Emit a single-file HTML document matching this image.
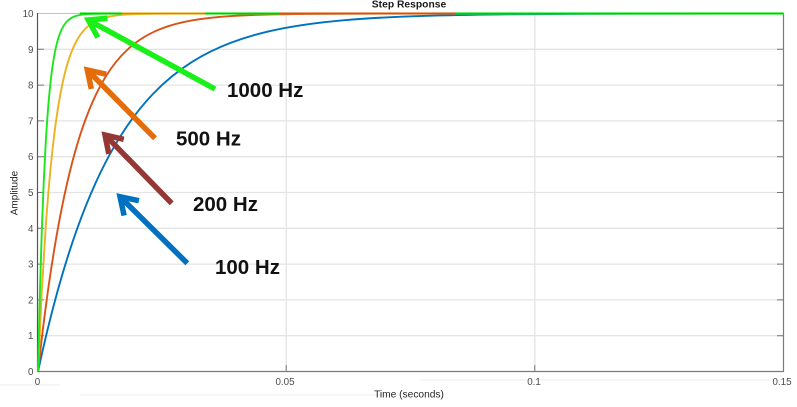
<!DOCTYPE html>
<html><head><meta charset="utf-8"><style>
html,body{margin:0;padding:0;background:#fff;}
svg{display:block;font-family:"Liberation Sans",Arial,sans-serif;}
</style></head><body>
<svg width="797" height="407" viewBox="0 0 797 407" xmlns="http://www.w3.org/2000/svg">
<defs>
<clipPath id="pc"><rect x="37" y="11" width="747" height="362"/></clipPath>
</defs>
<rect width="797" height="407" fill="#ffffff"/>
<!-- faint background pattern -->
<g stroke="#f3f3f3" stroke-width="1.5" fill="none">
<path d="M0 385 L60 385 M80 395 L400 395 M420 380 L780 380"/>
</g>
<!-- plot area -->
<rect x="37.5" y="13.5" width="746" height="358" fill="#ffffff"/>
<!-- grid -->
<g stroke="#e4e4e4" stroke-width="1.3">
<line x1="38" y1="335.7" x2="783" y2="335.7"/>
<line x1="38" y1="299.9" x2="783" y2="299.9"/>
<line x1="38" y1="264.1" x2="783" y2="264.1"/>
<line x1="38" y1="228.3" x2="783" y2="228.3"/>
<line x1="38" y1="192.5" x2="783" y2="192.5"/>
<line x1="38" y1="156.7" x2="783" y2="156.7"/>
<line x1="38" y1="120.9" x2="783" y2="120.9"/>
<line x1="38" y1="85.1" x2="783" y2="85.1"/>
<line x1="38" y1="49.3" x2="783" y2="49.3"/>
<line x1="286.2" y1="14" x2="286.2" y2="371"/>
<line x1="534.8" y1="14" x2="534.8" y2="371"/>
</g>
<!-- ticks -->
<g stroke="#777" stroke-width="1">
<path d="M38 335.7h6M38 299.9h6M38 264.1h6M38 228.3h6M38 192.5h6M38 156.7h6M38 120.9h6M38 85.1h6M38 49.3h6"/>
<path d="M783 335.7h-6M783 299.9h-6M783 264.1h-6M783 228.3h-6M783 192.5h-6M783 156.7h-6M783 120.9h-6M783 85.1h-6M783 49.3h-6"/>
<path d="M286.2 371v-6M534.8 371v-6"/>
</g>
<!-- axes -->
<line x1="37.5" y1="13" x2="37.5" y2="372" stroke="#555" stroke-width="1.2"/>
<line x1="37" y1="371.5" x2="784" y2="371.5" stroke="#7a7a7a" stroke-width="1.2"/>
<line x1="783.5" y1="13" x2="783.5" y2="372" stroke="#7a7a7a" stroke-width="1.2"/>
<!-- curves -->
<g clip-path="url(#pc)">
<g fill="none" stroke-width="1.9" stroke-linejoin="round">
<path id="c1" transform="translate(38,0) scale(77,1)" vector-effect="non-scaling-stroke" stroke="#0072bd" d="M0,371.5 C0.0833,341.67 0.1667,315.53 0.25,292.3 C0.3333,269.07 0.4167,248.69 0.5,230.6 C0.5833,212.51 0.6667,196.69 0.75,182.6 C0.8333,168.51 0.9167,156.18 1,145.2 C1.1667,123.25 1.3333,106.72 1.5,93.4 C1.6667,80.08 1.8333,70.03 2,61.95 C2.1667,53.88 2.3333,47.79 2.5,42.89 C2.6667,37.99 2.8333,34.29 3,31.32 C3.3333,25.38 3.6667,22.25 4,20.06 C4.3333,17.87 4.6667,16.71 5,15.91 C5.3333,15.11 5.6667,14.69 6,14.39 C6.6667,13.8 7.3333,13.7 8,13.62 C8.6667,13.54 9.3333,13.52 10,13.52 L200,13.5"/>
<path transform="translate(38,0) scale(39,1)" vector-effect="non-scaling-stroke" stroke="#d95319" d="M0,371.5 C0.0833,341.67 0.1667,315.53 0.25,292.3 C0.3333,269.07 0.4167,248.69 0.5,230.6 C0.5833,212.51 0.6667,196.69 0.75,182.6 C0.8333,168.51 0.9167,156.18 1,145.2 C1.1667,123.25 1.3333,106.72 1.5,93.4 C1.6667,80.08 1.8333,70.03 2,61.95 C2.1667,53.88 2.3333,47.79 2.5,42.89 C2.6667,37.99 2.8333,34.29 3,31.32 C3.3333,25.38 3.6667,22.25 4,20.06 C4.3333,17.87 4.6667,16.71 5,15.91 C5.3333,15.11 5.6667,14.69 6,14.39 C6.6667,13.8 7.3333,13.7 8,13.62 C8.6667,13.54 9.3333,13.52 10,13.52 L200,13.5"/>
<path transform="translate(38,0) scale(15,1)" vector-effect="non-scaling-stroke" stroke="#edb120" d="M0,371.5 C0.0833,341.67 0.1667,315.53 0.25,292.3 C0.3333,269.07 0.4167,248.69 0.5,230.6 C0.5833,212.51 0.6667,196.69 0.75,182.6 C0.8333,168.51 0.9167,156.18 1,145.2 C1.1667,123.25 1.3333,106.72 1.5,93.4 C1.6667,80.08 1.8333,70.03 2,61.95 C2.1667,53.88 2.3333,47.79 2.5,42.89 C2.6667,37.99 2.8333,34.29 3,31.32 C3.3333,25.38 3.6667,22.25 4,20.06 C4.3333,17.87 4.6667,16.71 5,15.91 C5.3333,15.11 5.6667,14.69 6,14.39 C6.6667,13.8 7.3333,13.7 8,13.62 C8.6667,13.54 9.3333,13.52 10,13.52 L200,13.5"/>
<path transform="translate(38,0) scale(7.6,1)" vector-effect="non-scaling-stroke" stroke="#1ee61e" d="M0,371.5 C0.0833,341.67 0.1667,315.53 0.25,292.3 C0.3333,269.07 0.4167,248.69 0.5,230.6 C0.5833,212.51 0.6667,196.69 0.75,182.6 C0.8333,168.51 0.9167,156.18 1,145.2 C1.1667,123.25 1.3333,106.72 1.5,93.4 C1.6667,80.08 1.8333,70.03 2,61.95 C2.1667,53.88 2.3333,47.79 2.5,42.89 C2.6667,37.99 2.8333,34.29 3,31.32 C3.3333,25.38 3.6667,22.25 4,20.06 C4.3333,17.87 4.6667,16.71 5,15.91 C5.3333,15.11 5.6667,14.69 6,14.39 C6.6667,13.8 7.3333,13.7 8,13.62 C8.6667,13.54 9.3333,13.52 10,13.52 L200,13.5"/>
</g>
</g>
<!-- top overlap line -->
<g stroke-width="2.2" fill="none">
<line x1="80" y1="13.5" x2="122" y2="13.5" stroke="#1ee61e"/>
<line x1="122" y1="13.5" x2="205" y2="13.5" stroke="#edb120"/>
<line x1="205" y1="13.5" x2="280" y2="13.5" stroke="#1ee61e"/>
<line x1="280" y1="13.5" x2="455" y2="13.5" stroke="#e0702a"/>
<line x1="455" y1="13.5" x2="783.5" y2="13.5" stroke="#1ee61e"/>
</g>
<line x1="37.5" y1="13.5" x2="783.5" y2="13.5" stroke="#333" stroke-width="1" stroke-dasharray="1 1" opacity="0.6"/>
<!-- tick labels -->
<g font-size="9.8" fill="#4d4d4d" text-anchor="end">
<text x="33.5" y="17">10</text>
<text x="33.5" y="52.8">9</text>
<text x="33.5" y="88.6">8</text>
<text x="33.5" y="124.4">7</text>
<text x="33.5" y="160.2">6</text>
<text x="33.5" y="196">5</text>
<text x="33.5" y="231.8">4</text>
<text x="33.5" y="267.6">3</text>
<text x="33.5" y="303.4">2</text>
<text x="33.5" y="339.2">1</text>
<text x="33.5" y="375">0</text>
</g>
<g font-size="9.8" fill="#4d4d4d" text-anchor="middle">
<text x="37.5" y="385">0</text>
<text x="285" y="385">0.05</text>
<text x="534" y="385">0.1</text>
<text x="782" y="385">0.15</text>
</g>
<text x="409" y="397.5" font-size="10.2" fill="#262626" text-anchor="middle">Time (seconds)</text>
<text transform="translate(17.5,193) rotate(-90)" font-size="10" fill="#262626" text-anchor="middle">Amplitude</text>
<text x="409" y="7.5" font-size="10.3" font-weight="bold" fill="#1a1a1a" text-anchor="middle">Step Response</text>
<!-- arrows -->
<g fill="none" stroke-width="5.5" stroke-linecap="butt" stroke-linejoin="miter">
<g stroke="#18f018">
<line x1="215" y1="89" x2="91" y2="21.5"/>
<polyline points="107.5,18.3 88.3,20 97.8,37.5"/>
</g>
<g stroke="#e46c0a">
<line x1="155" y1="138.3" x2="89.5" y2="72.2"/>
<polyline points="106.2,74.2 87.3,70 91.3,88.9"/>
</g>
<g stroke="#953735">
<line x1="171.7" y1="203.3" x2="107.2" y2="137.2"/>
<polyline points="123.8,139.3 105,135 108.8,153.9"/>
</g>
<g stroke="#0070c0">
<line x1="187.3" y1="263.3" x2="122.2" y2="198.9"/>
<polyline points="138.9,200.7 120,196.7 124.1,215.6"/>
</g>
</g>
<!-- labels -->
<g font-size="20.5" font-weight="bold" fill="#111">
<text x="227" y="97">1000 Hz</text>
<text x="176" y="145.5">500 Hz</text>
<text x="193" y="211">200 Hz</text>
<text x="215" y="274">100 Hz</text>
</g>
</svg>
</body></html>
